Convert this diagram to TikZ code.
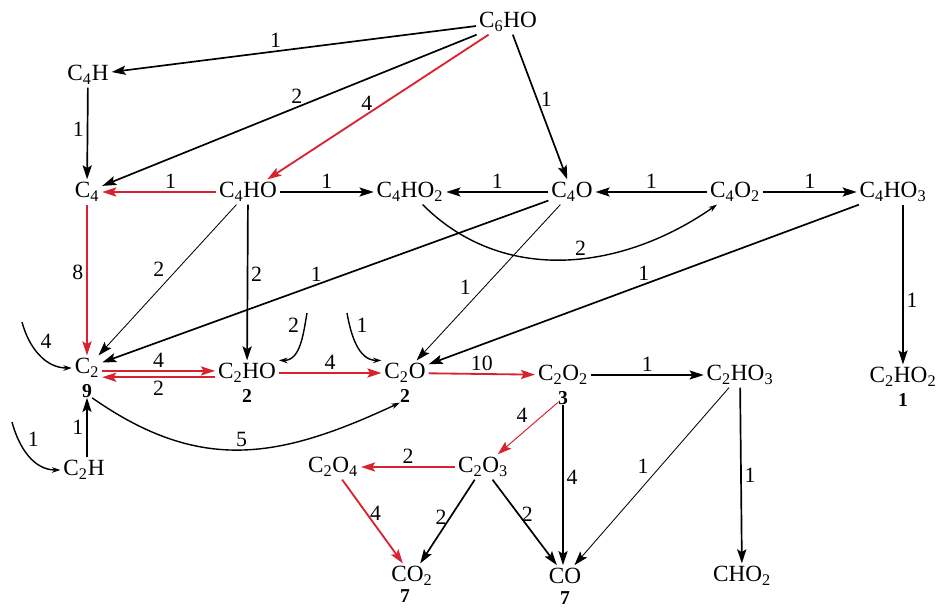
\documentclass[tikz,border=0pt]{standalone}
\usepackage{fontspec}
\setmainfont{Liberation Serif}
\usetikzlibrary{arrows.meta, positioning}
\definecolor{pathRed}{HTML}{D8232F}
\newcommand{\subsc}[1]{\textsubscript{#1}}

\begin{document}
\begin{tikzpicture}[x=0.025cm, y=-0.025cm,
    species/.style={inner sep=2pt, font=\fontsize{16.5}{18}\selectfont},
    tally/.style={inner sep=0pt, font=\bfseries\fontsize{14}{15}\selectfont},
    lab/.style={inner sep=2pt, font=\fontsize{15.5}{17}\selectfont},
    flux/.style={-{Stealth[length=10pt, width=6.5pt, inset=2pt]}, line width=1.2pt},
    thinflux/.style={flux, line width=0.6pt},
    redflux/.style={flux, draw=pathRed, line width=1.3pt},
    thinred/.style={flux, draw=pathRed, line width=0.7pt},
    selfarc/.style={-{Stealth[length=6pt, width=4pt]}, line width=1pt}]
  \useasboundingbox (0,0) rectangle (939,610);

  \node[species] (c6ho) at (508,22) {C\subsc{6}HO};
  \node[species] (c4h) at (88,75) {C\subsc{4}H};
  \node[species] (c4) at (87,192) {C\subsc{4}};
  \node[species] (c4ho) at (248,192) {C\subsc{4}HO};
  \node[species] (c4ho2) at (410,192) {C\subsc{4}HO\subsc{2}};
  \node[species] (c4o) at (572,192) {C\subsc{4}O};
  \node[species] (c4o2) at (735,192) {C\subsc{4}O\subsc{2}};
  \node[species] (c4ho3) at (893,192) {C\subsc{4}HO\subsc{3}};
  \node[species] (c2) at (87,368) {C\subsc{2}};
  \node[species] (c2ho) at (247,373) {C\subsc{2}HO};
  \node[species] (c2o) at (405,373) {C\subsc{2}O};
  \node[species] (c2o2) at (563,375) {C\subsc{2}O\subsc{2}};
  \node[species] (c2ho3) at (740,375) {C\subsc{2}HO\subsc{3}};
  \node[species] (c2ho2) at (903,377) {C\subsc{2}HO\subsc{2}};
  \node[species] (c2h) at (84,470) {C\subsc{2}H};
  \node[species] (c2o4) at (333,467) {C\subsc{2}O\subsc{4}};
  \node[species] (c2o3) at (483,467) {C\subsc{2}O\subsc{3}};
  \node[species] (co2) at (412,576) {CO\subsc{2}};
  \node[species] (co) at (565,576) {CO};
  \node[species] (cho2) at (742,576) {CHO\subsc{2}};

  \node[tally, below=2.5pt of c2] (t9) {9};
  \node[tally, below=2.5pt of c2ho] (t2a) {2};
  \node[tally, below=2.5pt of c2o] (t2b) {2};
  \node[tally, below=2.5pt of c2o2] (t3) {3};
  \node[tally, below=2.5pt of c2ho2] (t1) {1};
  \node[tally, below=0.5pt of co2, xshift=-5pt] (t7a) {7};
  \node[tally, below=3pt of co] (t7b) {7};

  \coordinate (a4) at (22,322);
  \coordinate (a2) at (307,313);
  \coordinate (a1) at (347,313);
  \coordinate (a1h) at (12,422);
  \coordinate (up) at ([yshift=1.5pt]c2ho.west);
  \coordinate (dn) at ([yshift=-3pt]c2ho.west);

  \draw[flux] (c6ho) -- node[lab, pos=0.55, above] {1} (c4h);
  \draw[flux] (c6ho) -- node[lab, pos=0.48, above] {2} (c4);
  \draw[redflux] (c6ho) -- node[lab, pos=0.55, above] {4} (c4ho);
  \draw[flux] (c6ho) -- node[lab, pos=0.45, right] {1} (c4o);
  \draw[flux] (c4h) -- node[lab, pos=0.45, left] {1} (c4);
  \draw[redflux] (c4ho) -- node[lab, pos=0.4, above] {1} (c4);
  \draw[flux] (c4ho) -- node[lab, above] {1} (c4ho2);
  \draw[flux] (c4o) -- node[lab, above] {1} (c4ho2);
  \draw[flux] (c4o2) -- node[lab, above] {1} (c4o);
  \draw[flux] (c4o2) -- node[lab, above] {1} (c4ho3);
  \draw[selfarc] (c4ho2) to[out=-45, in=-145, looseness=1]
    node[lab, pos=0.55, above] {2} (c4o2);

  \draw[redflux] (c4) -- node[lab, pos=0.45, left] {8} (c2);
  \draw[thinflux] (c4ho) -- node[lab, pos=0.5, above left] {2} (c2);
  \draw[flux] (c4o) -- node[lab, pos=0.52, above] {1} (c2);
  \draw[flux] (c4ho) -- node[lab, pos=0.45, right] {2} (c2ho);
  \draw[thinflux] (c4o) -- node[lab, pos=0.6, above left] {1} (c2o);
  \draw[flux] (c4ho3) -- node[lab, pos=0.5, above] {1} (c2o);
  \draw[flux] (c4ho3.south -| c2ho2) -- node[lab, pos=0.6, right] {1} (c2ho2);

  \draw[selfarc] (a4) to[out=-75, in=180] node[lab, pos=0.45, above right] {4} (c2.west);
  \draw[selfarc] (a2) to[out=-100, in=0] node[lab, pos=0.35, above left] {2} (c2ho.north east);
  \draw[selfarc] (a1) to[out=-80, in=180] node[lab, pos=0.35, above right] {1} (c2o.north west);
  \draw[selfarc] (a1h) to[out=-75, in=180] node[lab, pos=0.4, above right] {1} (c2h.west);

  \draw[redflux] (up -| c2.east) -- node[lab, above] {4} (up);
  \draw[redflux] (dn) -- node[lab, below] {2} (dn -| c2.east);
  \draw[redflux] (c2ho) -- node[lab, above] {4} (c2o);
  \draw[redflux] (c2o) -- node[lab, above] {10} (c2o2);
  \draw[flux] (c2o2) -- node[lab, above] {1} (c2ho3);
  \draw[selfarc] (t9.south east) to[out=-35, in=205, looseness=1.1]
    node[lab, pos=0.5, above] {5} (t2b.south west);
  \draw[flux] (c2h.north -| t9) -- node[lab, left] {1} (t9);

  \draw[flux] (c2ho3) -- node[lab, pos=0.5, right] {1} (cho2);
  \draw[thinflux] (c2ho3) -- node[lab, pos=0.5, above left] {1} (co);
  \draw[thinred] (t3) -- node[lab, pos=0.45, above left] {4} (c2o3);
  \draw[redflux] (c2o3) -- node[lab, above] {2} (c2o4);
  \draw[flux] (t3) -- node[lab, pos=0.45, right] {4} (t3 |- co.north);
  \draw[redflux] (c2o4) -- node[lab, pos=0.4, right] {4} (co2);
  \draw[flux] (c2o3) -- node[lab, pos=0.45, left] {2} (co2);
  \draw[flux] (c2o3) -- node[lab, pos=0.4, right] {2} (co);
\end{tikzpicture}
\end{document}
